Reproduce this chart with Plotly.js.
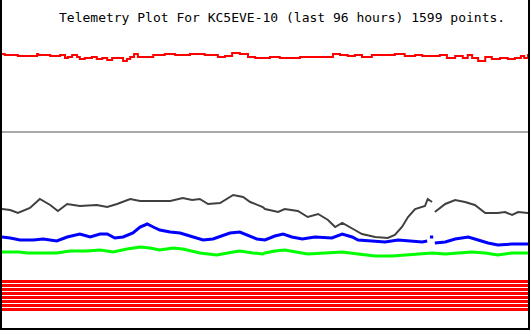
<!DOCTYPE html>
<html>
<head>
<meta charset="utf-8">
<script src="https://cdn.plot.ly/plotly-3.0.1.min.js"></script>
<style>
html,body{margin:0;padding:0;background:#fff;}
#chart{width:530px;height:330px;}
</style>
</head>
<body>
<div id="chart"></div>
<script>
// Time axis: hours within the last 96 hours
const redHours = [0.0,0.5,2.9,6.0,6.4,6.6,8.8,10.6,11.5,12.0,12.8,13.7,14.2,15.1,16.4,17.3,18.3,19.2,20.1,22.1,22.8,23.4,24.1,24.8,26.6,27.6,29.7,31.6,34.3,37.0,38.3,39.4,40.7,42.0,43.4,44.9,46.2,47.5,48.9,50.7,52.6,54.4,56.6,58.4,60.4,61.7,63.1,64.4,65.7,67.5,69.9,71.7,73.5,75.4,76.7,78.5,79.9,81.2,82.7,84.1,85.0,85.8,86.9,88.2,89.4,90.9,92.3,93.6,94.7,95.3,96.0];
const redValues = [274,273,272,272,274,273,272,273,270,271,273,271,269,270,271,269,270,268,270,267,269,271,274,271,271,273,274,273,274,273,273,271,272,275,274,271,270,270,271,270,270,271,271,271,274,273,272,273,271,273,273,274,272,273,272,272,273,270,272,270,273,270,267,271,269,270,269,270,272,270,274];

const refLevel = 196;

const grayHours = [0.0,1.5,2.9,5.1,6.9,8.8,10.2,11.9,14.2,17.3,19.2,21.0,23.4,25.2,28.3,30.7,33.0,34.7,36.1,37.6,39.8,42.2,44.0,45.3,47.6,48.0,50.4,51.6,54.0,55.8,57.7,59.5,60.8,62.1,64.4,65.7,68.1,70.4,71.7,73.0,74.1,75.4,77.2,77.7,78.5,78.75,79.0,80.9,82.7,84.5,86.3,88.2,90.5,91.8,93.1,94.2,96.0];
const grayValues = [119,118,115,120,129,123,117,124,122,123,121,124,129,127,127,127,130,128,129,124,125,133,131,126,121,119,116,119,117,111,114,108,101,105,98,94,91,90,93,101,111,119,122,129,126,null,116,124,128,126,123,115,115,116,113,116,115];

const blueHours = [0.0,1.5,3.3,5.7,7.5,10.0,11.9,14.2,16.1,17.9,19.2,20.6,22.1,23.9,25.2,26.5,27.6,28.8,30.7,32.5,34.3,36.7,38.5,41.6,43.4,44.7,46.5,48.0,49.8,51.3,52.9,54.8,57.1,60.2,62.1,63.9,65.0,67.5,69.9,72.3,74.8,76.7,77.6,77.9,78.1,78.7,78.85,79.0,80.9,82.7,85.1,86.9,88.7,90.5,93.1,96.0];
const blueValues = [91,90,88,88,89,87,91,94,91,94,94,90,91,95,101,104,101,98,96,95,92,88,89,95,96,93,89,88,92,94,91,89,91,90,94,91,88,87,86,88,87,86,87,null,91,91,null,85,86,89,91,88,85,83,84,84];

const greenHours = [0.0,3.1,4.6,6.9,10.0,12.4,15.5,17.9,20.3,22.8,25.2,27.0,28.8,31.2,33.0,36.1,39.2,42.2,43.4,45.8,47.6,48.0,49.8,51.6,53.5,55.8,59.0,62.1,65.0,68.1,71.2,74.1,77.2,78.5,80.9,83.2,85.7,88.2,90.5,93.1,96.0];
const greenValues = [76,76,75,75,75,77,77,78,76,79,81,80,78,80,79,75,73,76,77,75,74,75,77,78,76,74,75,76,74,72,72,73,74,75,74,75,76,75,73,75,75];

// Eight digital telemetry bit channels (constant over the window)
const bitHours = [0, 96];
const bitLevels = [46.5, 42.5, 38.5, 34.5, 30.5, 26.5, 22.5, 18.5];

const traces = [];
bitLevels.forEach(v => {
  traces.push({x: bitHours, y: [v, v], mode: 'lines', line: {color: '#ff0000', width: 3}});
});
traces.push({x: bitHours, y: [refLevel, refLevel], mode: 'lines', line: {color: '#a8a8a8', width: 2}});
traces.push({x: greenHours, y: greenValues, mode: 'lines', line: {color: '#00ff00', width: 3}, connectgaps: false});
traces.push({x: blueHours, y: blueValues, mode: 'lines', line: {color: '#0000ff', width: 3}, connectgaps: false});
traces.push({x: grayHours, y: grayValues, mode: 'lines', line: {color: '#404040', width: 2}, connectgaps: false});
traces.push({x: redHours, y: redValues, mode: 'lines', line: {color: '#ff0000', width: 2, shape: 'hv'}});

const layout = {
  width: 530, height: 330,
  margin: {l: 2, r: 2, t: 0, b: 2, pad: 0},
  paper_bgcolor: '#ffffff', plot_bgcolor: '#ffffff',
  showlegend: false,
  title: {
    text: 'Telemetry Plot For KC5EVE-10 (last 96 hours) 1599 points.',
    font: {family: 'DejaVu Sans Mono, monospace', size: 13, color: '#000000'},
    xref: 'container', yref: 'container',
    x: 59/530, xanchor: 'left', y: 1 - 17/330, yanchor: 'middle'
  },
  xaxis: {range: [0, 96], showgrid: false, zeroline: false, showticklabels: false, ticks: '',
          showline: true, linecolor: '#000000', linewidth: 2, fixedrange: true},
  yaxis: {range: [0, 328], showgrid: false, zeroline: false, showticklabels: false, ticks: '',
          showline: true, mirror: true, linecolor: '#000000', linewidth: 2, fixedrange: true},
  hovermode: false
};

Plotly.newPlot('chart', traces, layout, {staticPlot: true, displayModeBar: false});
</script>
</body>
</html>
